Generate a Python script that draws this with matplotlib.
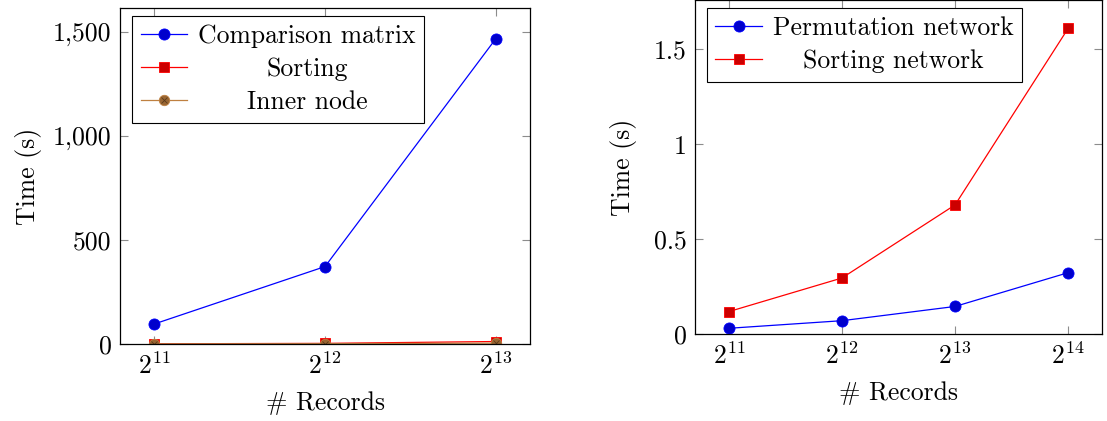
import matplotlib
matplotlib.use("Agg")
import matplotlib.pyplot as plt
from matplotlib.ticker import FuncFormatter, LogFormatterSciNotation, NullLocator, FixedLocator
from matplotlib.legend_handler import HandlerTuple

plt.rcParams["font.family"] = "serif"
plt.rcParams["font.serif"] = ["cmr10"]
plt.rcParams["mathtext.fontset"] = "cm"
plt.rcParams["axes.formatter.use_mathtext"] = True
FS = 18.5
plt.rcParams["font.size"] = FS

# left chart
records_left = [2 ** 11, 2 ** 12, 2 ** 13]
comparison_matrix = [96, 372, 1467]
sorting = [1, 3, 12]
inner_node = [0.5, 1.5, 4]

# right chart
records_right = [2 ** 11, 2 ** 12, 2 ** 13, 2 ** 14]
permutation_network = [0.03, 0.07, 0.145, 0.323]
sorting_network = [0.118, 0.295, 0.68, 1.61]

BLUE_FILL = "#0000cc"
RED_FILL = "#cc0000"
BROWN = "#bf8040"
BROWN_FILL = "#996633"


def style_axes(ax, xmin_exp, xmax_exp, ypad):
    ax.set_xscale("log", base=2)
    ax.set_xlim(2 ** xmin_exp, 2 ** xmax_exp)
    ax.xaxis.set_minor_locator(NullLocator())
    ax.xaxis.set_major_formatter(LogFormatterSciNotation(base=2))
    ax.tick_params(which="both", direction="in", top=True, right=True,
                   length=6, width=0.8, color="#8c8c8c", labelsize=FS, pad=6)
    for s in ax.spines.values():
        s.set_linewidth(0.9)
    ax.set_xlabel("# Records", fontsize=FS, labelpad=9)
    ax.set_ylabel("Time (s)", fontsize=FS, labelpad=ypad)


def center_legend_text(fig, leg):
    fig.canvas.draw()
    texts = leg.get_texts()
    widths = [t.get_window_extent().width for t in texts]
    maxw = max(widths)
    for t, w in zip(texts, widths):
        t.set_position(((maxw - w) / 2, 0))


fig = plt.figure(figsize=(11.07, 4.21), dpi=100)
ax1 = fig.add_axes([0.1084, 0.1829, 0.3704, 0.798])
ax2 = fig.add_axes([0.6278, 0.2067, 0.3677, 0.7933])

legend_kw = dict(loc="upper left", bbox_to_anchor=(0.03, 0.975), fontsize=FS,
                 frameon=True, fancybox=False, framealpha=1, edgecolor="black",
                 borderpad=0.32, labelspacing=0.36, handlelength=1.8, handletextpad=0.45,
                 borderaxespad=0)

# left
l1, = ax1.plot(records_left, comparison_matrix, color="blue", lw=0.9, marker="o",
               ms=8, mfc=BLUE_FILL, mec="blue", mew=0.6)
l2, = ax1.plot(records_left, sorting, color="red", lw=0.9, marker="s",
               ms=7.5, mfc=RED_FILL, mec="red", mew=0.6)
l3, = ax1.plot(records_left, inner_node, color=BROWN, lw=0.9, marker="o",
               ms=7.5, mfc=BROWN_FILL, mec=BROWN, mew=0.6)
l3x, = ax1.plot(records_left, inner_node, ls="none", marker="x",
                ms=5, mec="#5a3a1a", mew=0.6)
style_axes(ax1, 10.8, 13.2, 8)
ax1.set_ylim(0, 1614)
ax1.yaxis.set_major_locator(FixedLocator([0, 500, 1000, 1500]))
ax1.yaxis.set_major_formatter(FuncFormatter(lambda v, p: f"{v:,.0f}"))
leg1 = ax1.legend([l1, l2, (l3, l3x)], ["Comparison matrix", "Sorting", "Inner node"],
                  handler_map={tuple: HandlerTuple(ndivide=1, pad=0)}, **legend_kw)
leg1.get_frame().set_linewidth(0.8)

# right
ax2.plot(records_right, permutation_network, color="blue", lw=0.9, marker="o",
         ms=8, mfc=BLUE_FILL, mec="blue", mew=0.6, label="Permutation network")
ax2.plot(records_right, sorting_network, color="red", lw=0.9, marker="s",
         ms=7.5, mfc=RED_FILL, mec="red", mew=0.6, label="Sorting network")
style_axes(ax2, 10.7, 14.3, 12)
ax2.set_ylim(0, 1.76)
ax2.yaxis.set_major_locator(FixedLocator([0, 0.5, 1, 1.5]))
ax2.yaxis.set_major_formatter(FuncFormatter(lambda v, p: f"{v:g}"))
leg2 = ax2.legend(**legend_kw)
leg2.get_frame().set_linewidth(0.8)

center_legend_text(fig, leg1)
center_legend_text(fig, leg2)

fig.savefig("out.png", dpi=100)
